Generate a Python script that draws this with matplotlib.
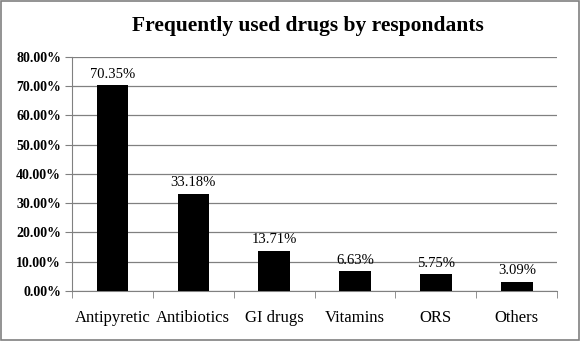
import numpy as np
import matplotlib.pyplot as plt
from matplotlib.patches import Rectangle

categories = ['Antipyretic', 'Antibiotics', 'GI drugs', 'Vitamins', 'ORS', 'Others']
values = [70.35, 33.18, 13.71, 6.63, 5.75, 3.09]

plt.rcParams['font.family'] = ['Liberation Serif', 'DejaVu Serif']

fig = plt.figure(figsize=(5.81, 3.41), dpi=100)
ax = fig.add_axes([0.124, 0.147, 0.835, 0.686])

x = np.arange(len(categories))
ax.bar(x, values, width=0.39, color='black', zorder=3)
for xi, v in zip(x, values):
    ax.text(xi, v + 1.5, '{:.2f}%'.format(v), ha='center', va='bottom', fontsize=10.5)

ax.set_xlim(-0.5, len(categories) - 0.5)
ax.set_ylim(0, 80)
ax.set_yticks(np.arange(0, 81, 10))
ax.set_yticklabels(['{:.2f}%'.format(t) for t in np.arange(0, 81, 10)], fontsize=10, fontweight='bold')
ax.set_xticks(x)
ax.set_xticklabels(categories, fontsize=12)
ax.set_xticks(np.arange(-0.5, len(categories)), minor=True)
ax.tick_params(axis='x', which='major', length=0, pad=14)
ax.tick_params(axis='x', which='minor', length=5, color='#808080')
ax.tick_params(axis='y', length=5, color='#808080', pad=3)
ax.grid(axis='y', color='#808080', lw=0.9, zorder=0)
for s in ['top', 'right']:
    ax.spines[s].set_visible(False)
ax.spines['left'].set_color('#808080')
ax.spines['bottom'].set_color('#808080')

fig.text(0.53, 0.925, 'Frequently used drugs by respondants', ha='center', va='center',
         fontsize=15.5, fontweight='bold')
fig.patches.append(Rectangle((0.002, 0.003), 0.995, 0.993, transform=fig.transFigure,
                             fill=False, edgecolor='#808080', lw=1.2))

plt.savefig('out.png', dpi=100)
